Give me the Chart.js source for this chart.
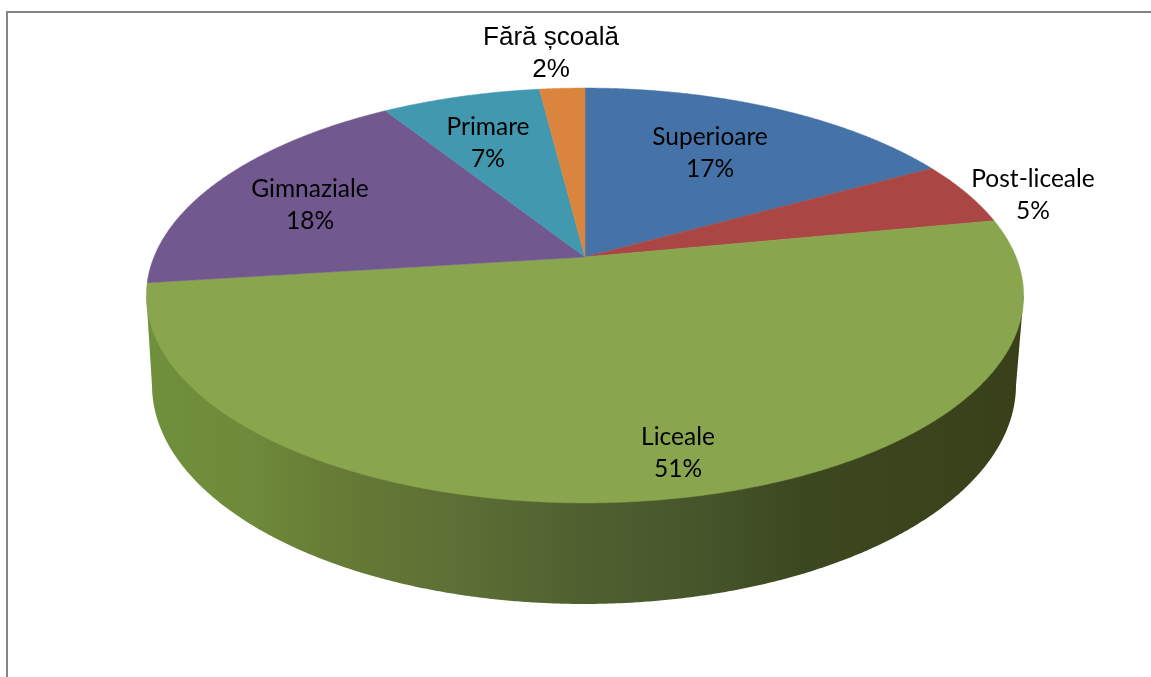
<!DOCTYPE html>
<html>
<head>
<meta charset="utf-8">
<style>
  html, body { margin: 0; padding: 0; background: #fff; overflow: hidden; width: 1151px; height: 677px; }
  #frame { position: absolute; left: 6px; top: 11px; width: 1300px; height: 800px; border: 2px solid #868686; }
  #myChart { position: absolute; left: 0; top: 0; }
</style>
</head>
<body>
<div id="frame"></div>
<canvas id="myChart" width="1151" height="677"></canvas>
<script src="https://cdn.jsdelivr.net/npm/chart.js@4"></script>
<script>
const categories = ["Superioare", "Post-liceale", "Liceale", "Gimnaziale", "Primare", "Fără școală"];
const percents = [17, 5, 51, 18, 7, 2];
const sliceColors = ["#4572A7", "#AA4643", "#89A54E", "#71588F", "#4198AF", "#DB843D"];

// Text centre of each label (name line, percent line is below it)
const labelCenters = [[710, 137], [1033, 179], [678, 437], [310, 189], [488, 127], [551, 38]];

// Perspective of the top face and of the bottom rim of the disc
const topFace = { x: 585, y: 257, a: 200.3, b: 431, p: -0.1855 };
const bottomRim = { x: 584, y: 344.3, a: 211.5, b: 424.5, p: -0.1855 };

// Chart.js angle -> point on the tilted disc
function project(face, angle, r) {
    const t = angle + Math.PI / 2;
    const u = Math.sin(t) * r;
    const v = -Math.cos(t) * r;
    const d = 1 + face.p * v;
    return [face.x + face.b * u / d, face.y + face.a * v / d];
}

function rimPath(ctx, face, from, to) {
    const steps = Math.max(2, Math.ceil(Math.abs(to - from) / 0.005));
    for (let i = 0; i <= steps; i++) {
        const pt = project(face, from + (to - from) * i / steps, 1);
        ctx.lineTo(pt[0], pt[1]);
    }
}

function drawWall(ctx) {
    const grad = ctx.createLinearGradient(145, 0, 1023, 0);
    grad.addColorStop(0, "#70903C");
    grad.addColorStop(0.12, "#6E8A3A");
    grad.addColorStop(0.21, "#677C36");
    grad.addColorStop(0.35, "#5D7035");
    grad.addColorStop(0.5, "#4F6030");
    grad.addColorStop(0.63, "#46562B");
    grad.addColorStop(0.75, "#3C4820");
    grad.addColorStop(1, "#394019");
    ctx.fillStyle = grad;
    ctx.beginPath();
    // rightmost point of the top face, round the bottom rim, back to the leftmost one
    const right = project(topFace, -Math.PI / 2 + 1.76, 1);
    const left = project(topFace, -Math.PI / 2 + 4.52, 1);
    ctx.moveTo(right[0], right[1]);
    rimPath(ctx, bottomRim, -Math.PI / 2 + 1.76, -Math.PI / 2 + 4.52);
    ctx.lineTo(left[0], left[1]);
    ctx.closePath();
    ctx.fill();
}

const disc3d = {
    id: "disc3d",
    beforeDatasetDraw(chart) {
        const ctx = chart.ctx;
        ctx.save();
        drawWall(ctx);
        chart.getDatasetMeta(0).data.forEach((arc, i) => {
            ctx.fillStyle = sliceColors[i];
            ctx.strokeStyle = sliceColors[i];
            ctx.lineWidth = 0.5;
            ctx.beginPath();
            ctx.moveTo(topFace.x, topFace.y);
            rimPath(ctx, topFace, arc.startAngle, arc.endAngle);
            ctx.closePath();
            ctx.fill();
            ctx.stroke();
        });
        ctx.restore();
        return false; // the flat arcs are replaced by the drawing above
    },
    afterDatasetsDraw(chart) {
        const ctx = chart.ctx;
        ctx.save();
        ctx.fillStyle = "#000";
        ctx.textAlign = "center";
        ctx.textBaseline = "middle";
        categories.forEach((name, i) => {
            // the label above the pie is in another font in the original
            ctx.font = i === 5 ? "26px 'Liberation Sans'" : "24.5px Lato";
            ctx.fillText(name, labelCenters[i][0], labelCenters[i][1]);
            ctx.fillText(percents[i] + "%", labelCenters[i][0], labelCenters[i][1] + 32);
        });
        ctx.restore();
    }
};

new Chart(document.getElementById("myChart").getContext("2d"), {
    type: "pie",
    data: {
        labels: categories,
        datasets: [{ data: percents, backgroundColor: sliceColors, borderWidth: 0 }]
    },
    options: {
        responsive: false,
        animation: false,
        plugins: { legend: { display: false }, tooltip: { enabled: false } }
    },
    plugins: [disc3d]
});
</script>
</body>
</html>
